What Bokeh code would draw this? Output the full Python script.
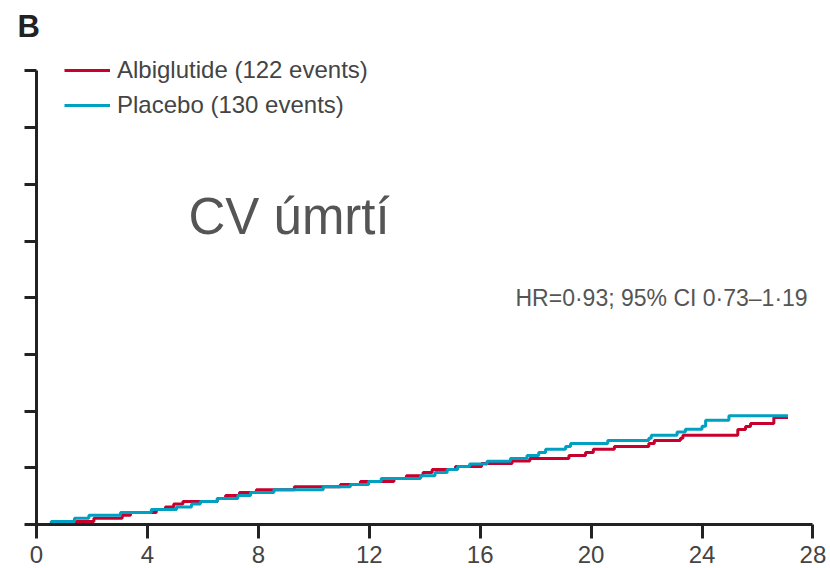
from bokeh.plotting import figure
from bokeh.models import Legend, LegendItem, Label, Range1d, FixedTicker
from bokeh.embed import file_html
from bokeh.resources import INLINE

# Months since randomisation and cumulative incidence (%)
albiglutide_months = [0, 1.44, 2.07, 3.09, 3.39, 4.32, 4.65, 4.95, 5.28, 6.52, 6.82, 7.32,
                      7.93, 9.30, 10.96, 11.68, 12.89, 13.34, 13.94, 14.27, 15.11, 16.05,
                      17.15, 17.79, 19.20, 19.80, 20.08, 20.84, 22.08, 22.28, 23.22, 23.31,
                      25.29, 25.57, 25.75, 26.59, 27.10]
albiglutide_pct = [0, 0.11, 0.22, 0.33, 0.42, 0.53, 0.62, 0.72, 0.81, 0.92, 1.02, 1.13,
                   1.23, 1.33, 1.41, 1.52, 1.62, 1.72, 1.83, 1.94, 2.05, 2.15,
                   2.24, 2.33, 2.43, 2.54, 2.65, 2.75, 2.86, 2.96, 3.04, 3.15,
                   3.35, 3.46, 3.56, 3.77, 3.77]

placebo_months = [0, 0.53, 1.37, 1.89, 3.03, 4.14, 5.05, 5.59, 5.91, 6.52, 7.26, 7.72,
                  8.56, 10.34, 11.32, 11.98, 12.43, 13.85, 14.37, 14.81, 15.19, 15.62,
                  16.25, 17.09, 17.69, 18.11, 18.36, 19.08, 19.26, 20.60, 22.08, 22.17,
                  23.10, 23.40, 24.00, 24.13, 24.97, 27.10]
placebo_pct = [0, 0.11, 0.22, 0.33, 0.42, 0.53, 0.62, 0.72, 0.81, 0.92, 1.02, 1.13,
               1.23, 1.33, 1.41, 1.52, 1.62, 1.72, 1.83, 1.94, 2.05, 2.13,
               2.23, 2.33, 2.43, 2.54, 2.65, 2.75, 2.86, 2.96, 3.04, 3.15,
               3.26, 3.36, 3.47, 3.68, 3.84, 3.84]

x_ticks = [0, 4, 8, 12, 16, 20, 24, 28]
y_ticks = [0, 2, 4, 6, 8, 10, 12, 14, 16]

legend_labels = ["Albiglutide (122 events)", "Placebo (130 events)"]
panel_label = "B"
title_text = "CV úmrtí"
hr_text = "HR=0·93; 95% CI 0·73–1·19"

RED = "#c8002d"
BLUE = "#00a0c3"
AXIS = "#222222"
FONT = "Liberation Sans"

# frame: x 36..830 px, y 44..524 px ; axis bounded to 0-28 months and 0-16 %
PX_PER_MONTH = 27.73
PX_PER_PCT = 28.35
x_end = (830 - 36) / PX_PER_MONTH
y_end = (524 - 44) / PX_PER_PCT

p = figure(width=830, height=568, output_backend="svg", toolbar_location=None,
           x_range=Range1d(0, x_end), y_range=Range1d(0, y_end),
           min_border_left=36, min_border_right=0, min_border_top=44, min_border_bottom=44)
p.outline_line_color = None
p.xgrid.visible = False
p.ygrid.visible = False
p.background_fill_color = "white"
p.border_fill_color = "white"

p.title.text = panel_label
p.title.text_font = FONT
p.title.text_font_size = "31px"
p.title.text_font_style = "bold"
p.title.text_color = "#222222"
p.title.align = "left"
p.title.offset = -19
p.title.standoff = 2

r_alb = p.step(albiglutide_months, albiglutide_pct, mode="after", line_color=RED, line_width=3)
r_pla = p.step(placebo_months, placebo_pct, mode="after", line_color=BLUE, line_width=3)

for ax in (p.xaxis[0], p.yaxis[0]):
    ax.axis_line_color = AXIS
    ax.axis_line_width = 3
    ax.major_tick_line_color = AXIS
    ax.major_tick_line_width = 3
    ax.minor_tick_line_color = None
    ax.major_tick_in = 0

p.xaxis.bounds = (x_ticks[0], x_ticks[-1])
p.xaxis.ticker = FixedTicker(ticks=x_ticks)
p.xaxis.major_tick_out = 14
p.xaxis.major_label_text_font = FONT
p.xaxis.major_label_text_font_size = "24px"
p.xaxis.major_label_text_color = "#444444"
p.xaxis.major_label_standoff = 7

p.yaxis.bounds = (y_ticks[0], y_ticks[-1])
p.yaxis.ticker = FixedTicker(ticks=y_ticks)
p.yaxis.major_tick_out = 12
p.yaxis.major_label_overrides = {t: "" for t in y_ticks}
p.yaxis.major_label_standoff = 0

legend = Legend(items=[LegendItem(label=legend_labels[0], renderers=[r_alb]),
                       LegendItem(label=legend_labels[1], renderers=[r_pla])],
                location=(28, 405), padding=0, margin=0, spacing=7,
                glyph_width=46, glyph_height=28, label_height=28, label_standoff=7,
                label_text_font=FONT, label_text_font_size="24px", label_text_color="#444444",
                border_line_color=None, background_fill_alpha=0)
p.add_layout(legend)

def xd(px):
    return (px - 36) / PX_PER_MONTH

def yd(py):
    return (524 - py) / PX_PER_PCT

p.add_layout(Label(x=xd(188), y=yd(216), text=title_text, text_font=FONT,
                   text_font_size="51px", text_color="#555555", text_baseline="alphabetic"))
p.add_layout(Label(x=xd(515), y=yd(297), text=hr_text, text_font=FONT,
                   text_font_size="23px", text_color="#555555", text_baseline="alphabetic"))

open("out.html", "w").write(file_html(p, INLINE))
